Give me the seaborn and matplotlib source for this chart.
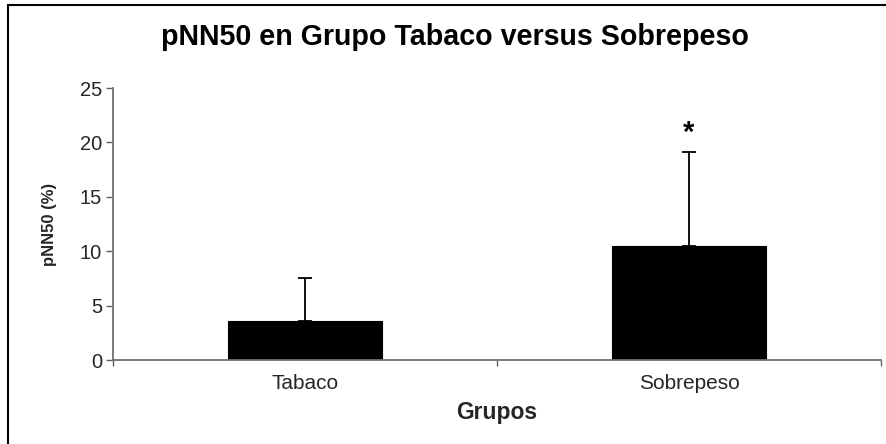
import matplotlib
matplotlib.use("Agg")
import matplotlib.pyplot as plt
import seaborn as sns
import pandas as pd
from matplotlib.lines import Line2D

categories = ["Tabaco", "Sobrepeso"]
means = [3.6, 10.5]
sd_upper = [3.9, 8.6]
significance = ["", "*"]
y_ticks = [0, 5, 10, 15, 20, 25]

sns.set_theme(style="white")
plt.rcParams["font.family"] = ["Liberation Sans", "DejaVu Sans"]

df = pd.DataFrame({"Grupo": categories, "pNN50": means})

fig = plt.figure(figsize=(8.87, 4.44), dpi=100)
ax = fig.add_axes([113/887, 1-360/444, (881-113)/887, (360-88)/444])

sns.barplot(data=df, x="Grupo", y="pNN50", color="black", width=0.40,
            edgecolor="black", linewidth=0.8, ax=ax, errorbar=None, saturation=1)
ax.errorbar(range(len(categories)), means, yerr=[[0]*len(sd_upper), sd_upper],
            fmt="none", ecolor="black", elinewidth=1.3, capsize=5, capthick=1.3, zorder=3)
for i, s in enumerate(significance):
    if s:
        ax.text(i, means[i] + sd_upper[i] + 0.45, s, ha="center", va="bottom",
                fontsize=21, fontweight="bold", color="black")

ax.set_xlim(-0.5, 1.5)
ax.set_ylim(0, 25)
ax.set_yticks(y_ticks)
ax.set_yticklabels([str(t) for t in y_ticks], fontsize=14.5)
ax.set_xticks(range(len(categories)))
ax.set_xticklabels(categories, fontsize=15)
ax.set_xticks([-0.5, 0.5, 1.5], minor=True)
ax.tick_params(axis="x", which="major", length=0, pad=10)
ax.tick_params(axis="x", which="minor", length=4, width=1, color="#606060", direction="out", bottom=True)
ax.tick_params(axis="y", length=5, width=1, color="#606060", direction="out", left=True, pad=3)

for side in ["top", "right"]:
    ax.spines[side].set_visible(False)
for side in ["left", "bottom"]:
    ax.spines[side].set_color("#707070")
    ax.spines[side].set_linewidth(1.3)

ax.set_xlabel("Grupos", fontsize=16.5, fontweight="bold", labelpad=6)
ax.set_ylabel("pNN50 (%)", fontsize=12, fontweight="bold", labelpad=16)

fig.text(455/887, 1-37/444, "pNN50 en Grupo Tabaco versus Sobrepeso",
         ha="center", va="center", fontsize=20.6, fontweight="bold", color="black")

# figure border (top and left visible)
fig.add_artist(Line2D([8/887, 1.0], [1-5/444, 1-5/444], transform=fig.transFigure, color="black", lw=1.5))
fig.add_artist(Line2D([8/887, 8/887], [0, 1-5/444], transform=fig.transFigure, color="black", lw=1.5))

fig.savefig("out.png", dpi=100, facecolor="white")
